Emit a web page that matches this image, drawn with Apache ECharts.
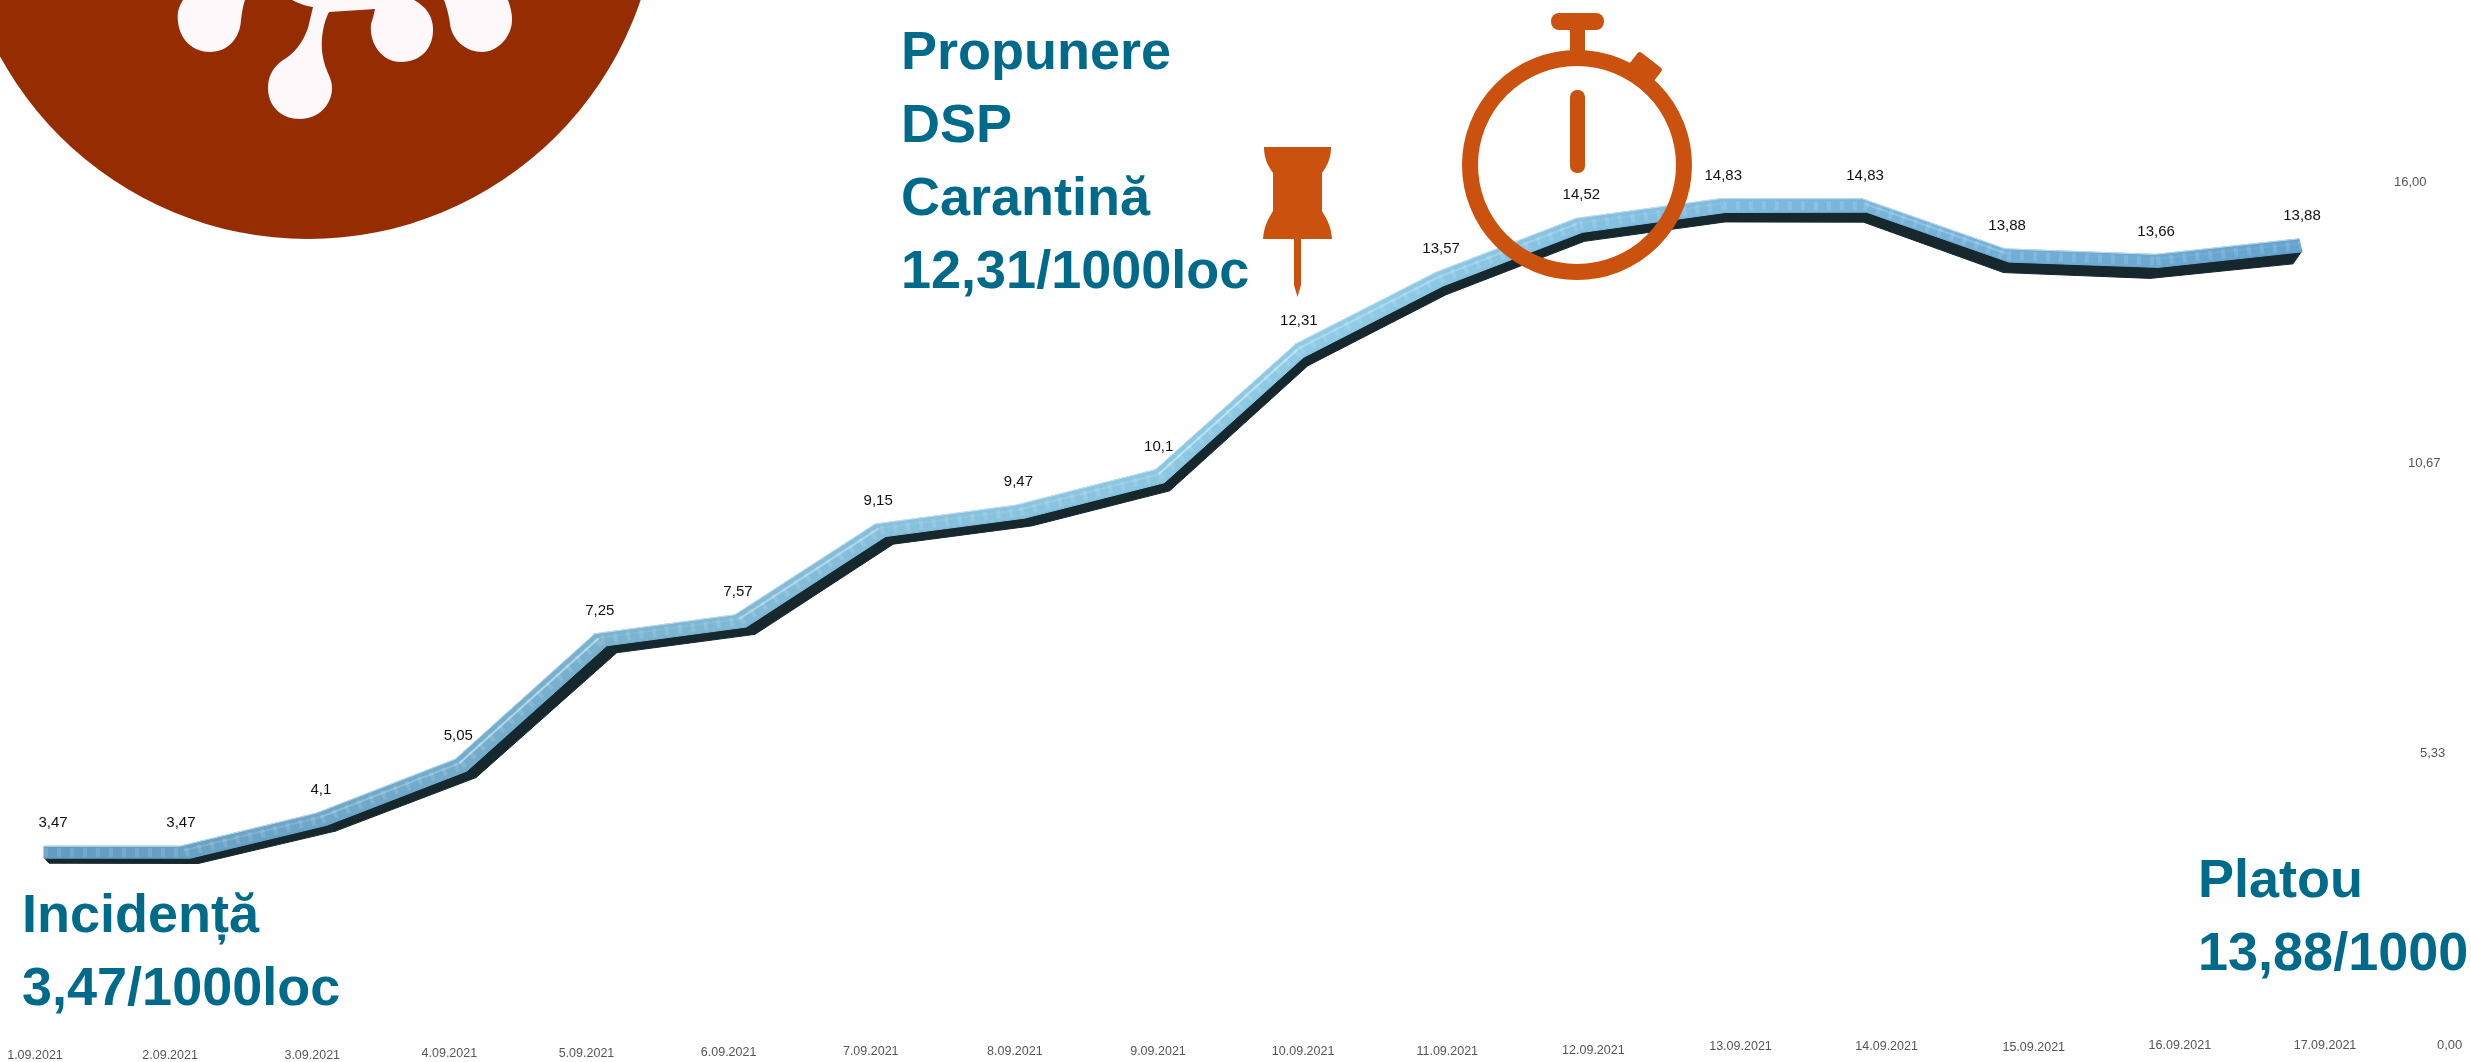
<!DOCTYPE html>
<html><head><meta charset="utf-8">
<style>html,body{margin:0;padding:0;background:#fff}#c{width:2471px;height:1062px}</style>
<script src="https://cdn.jsdelivr.net/npm/echarts@6/dist/echarts.min.js"></script>
</head><body><div id="c"></div>
<script>
// ---- data ----
var dates = ['1.09.2021','2.09.2021','3.09.2021','4.09.2021','5.09.2021','6.09.2021','7.09.2021','8.09.2021','9.09.2021','10.09.2021','11.09.2021','12.09.2021','13.09.2021','14.09.2021','15.09.2021','16.09.2021','17.09.2021'];
var incidenta = [3.47,3.47,4.1,5.05,7.25,7.57,9.15,9.47,10.1,12.31,13.57,14.52,14.83,14.83,13.88,13.66,13.88];
var yTicks = [0,5.33,10.67,16];

// ---- perspective look of the original 3D line (styling only) ----
var TEAL='#006a8a', ORANGE='#cb510e', RUST='#962c02', BLOB='#fff8fb';
function lerp(st,x){ if(x<=st[0][0])return st[0].slice(1);
  for(var i=1;i<st.length;i++){ if(x<=st[i][0]){var t=(x-st[i-1][0])/(st[i][0]-st[i-1][0]);
    return st[i].slice(1).map(function(v,k){return st[i-1][k+1]+(v-st[i-1][k+1])*t;});}}
  return st[st.length-1].slice(1);}
var warpStops=[[44,0,-3],[185,-5,-3],[326,-10,0],[608,-13,0],[1000,-15,-2],[1595,-18,-1],[1736,-15,-3],[1900,-14,-3],[2017,-12,-7],[2158,-3,-14],[2299,0,-17]];
// x: blue dx, blue dy, dark dx, dark dy
var depthStops=[[44,0,12,5,17],[120,10,12,18,17],[600,12,12,22,19],[1577,6,14,8,23],[2155,3,13,-5,24],[2299,3,13,-6,25]];
var xLabelNudge=[0,-8,-9,-15,-21,-22,-23,-22,-22,-20,-19,-16,-12,-9,-5,-2,0];
var xLabelDrop=[10,10,10,8,8,7,6,6,6,6,6,5,1,1,2,0,0];
var yLabelStyle={0:[0,0,43],5.33:[0,8,26],10.67:[0,12,14],16:[0,0,0]};
var dataLabelLeft=[6,-2,2,0,2,0,0,0,0,0,2,2,0,0,-1,-2,0];

function warp(api,i){ var p=api.coord([i,incidenta[i]]); var w=lerp(warpStops,p[0]); return [p[0]+w[0],p[1]+w[1]]; }
function off(p,dx,dy){ return [p[0]+dx,p[1]+dy]; }
var blueFill={type:'linear',x:0,y:0,x2:2471,y2:0,global:true,colorStops:[
 {offset:0,color:'#5f9ac0'},{offset:.12,color:'#6ca5c8'},{offset:.24,color:'#78b2cf'},{offset:.36,color:'#86c0dc'},{offset:.55,color:'#8fcbe6'},{offset:.72,color:'#7cb8dc'},{offset:1,color:'#5d9ccb'}]};
function bandItem(kind){ return function(params,api){
  var i=api.value(0);
  if(i>=incidenta.length-1) return {type:'group',children:[]};
  var a=warp(api,i), b=warp(api,i+1), da=lerp(depthStops,a[0]), db=lerp(depthStops,b[0]);
  if(kind==='dark'){
    return {type:'polygon',shape:{points:[off(a,da[0],da[1]-1),off(b,db[0],db[1]-1),off(b,db[2],db[3]),off(a,da[2],da[3])]},
      style:{fill:'#16282d',stroke:'#16282d',lineWidth:1}};
  }
  var steep=Math.abs(b[1]-a[1])/(b[0]-a[0]);
  return {type:'group',children:[
    {type:'polygon',shape:{points:[a,b,off(b,db[0],db[1]),off(a,da[0],da[1])]},style:{fill:blueFill,stroke:blueFill,lineWidth:1}},
    {type:'line',shape:{x1:a[0]+da[0]*.5,y1:a[1]+da[1]*.5,x2:b[0]+db[0]*.5,y2:b[1]+db[1]*.5},style:{stroke:'rgba(255,255,255,.13)',lineWidth:9,lineDash:[4,9]}},
    {type:'line',shape:{x1:a[0]+da[0]*.35,y1:a[1]+da[1]*.35,x2:b[0]+db[0]*.35,y2:b[1]+db[1]*.35},style:{stroke:'rgba(225,245,250,'+Math.min(.55,steep*.7)+')',lineWidth:2}},
    {type:'line',shape:{x1:a[0],y1:a[1],x2:b[0],y2:b[1]},style:{stroke:'rgba(205,230,240,.8)',lineWidth:1}}
  ]};
};}
function labelItem(params,api){
  var i=api.value(0), p=warp(api,i);
  return {type:'text',x:p[0]+3+dataLabelLeft[i],y:p[1]-23,style:{text:String(incidenta[i]).replace('.',','),fill:'#111',font:'15px "Liberation Sans"',textAlign:'center',textVerticalAlign:'middle'}};
}
var seriesData=incidenta.map(function(v,i){return [i,v];});

var xRich={}; dates.forEach(function(d,i){ var n=xLabelNudge[i];
  xRich['t'+i]={fontSize:12.5,fontFamily:'Liberation Sans',color:'#555',padding:[xLabelDrop[i]*2,n<0?-n*2:0,0,0]}; });
var yRich={}; yTicks.forEach(function(v,i){ var s=yLabelStyle[v];
  yRich['y'+i]={fontSize:13,fontFamily:'Liberation Sans',color:'#555',padding:[0,0,s[1],s[2]]}; });

// decorative outlines: straight and cubic pieces flattened to polygon points
function outline(cmds){ var pts=[],cur=null;
  cmds.forEach(function(c){
    if(c.length===2){cur=c;pts.push(c);}
    else{ for(var k=1;k<=16;k++){var t=k/16,u=1-t;
      pts.push([u*u*u*cur[0]+3*u*u*t*c[0]+3*u*t*t*c[2]+t*t*t*c[4], u*u*u*cur[1]+3*u*u*t*c[1]+3*u*t*t*c[3]+t*t*t*c[5]]);}
      cur=[c[4],c[5]]; }
  }); return pts; }
function bigText(t,x,y){ return {type:'text',x:x,y:y,z:20,style:{text:t,fill:TEAL,font:'bold 54px "Liberation Sans"',textVerticalAlign:'middle'}}; }
function blob(cmds,fill){ return {type:'polygon',z:2,shape:{points:outline(cmds)},style:{fill:fill||BLOB}}; }
var graphic=[
 {type:'circle',z:1,shape:{cx:308,cy:-112,r:351},style:{fill:RUST}},
 blob([[183,0],[178,8,177,14,178,22],[180,40,193,52,210,52],[228,52,240,38,241,20],[242,12,243,6,245,0]]),
 blob([[292,0],[298,3,305,6,313,7],[308,28],[303,42,295,53,283,60],[272,68,268,77,268,88],[268,106,281,119,300,119],[318,119,332,105,332,88],[332,82,330,78,328,73],[323,62,321,50,322,38],[323,28,325,20,329,12],[375,9],[374,14,373,18,371,24],[369,44,382,62,401,62],[421,62,433,48,433,30],[433,18,428,8,414,0]]),
 blob([[444,0],[447,8,449,16,450,24],[452,40,466,52,482,52],[498,52,512,36,512,20],[512,12,510,6,508,0]]),
 bigText('Propunere',901,54), bigText('DSP',901,127), bigText('Carantină',901,200), bigText('12,31/1000loc',901,273),
 bigText('Incidență',22,917), bigText('3,47/1000loc',22,990),
 bigText('Platou',2198,882), bigText('13,88/1000',2198,955),
 {type:'polygon',z:20,shape:{points:outline([[1264,147],[1331,147],[1331,160,1326,167,1322,173],[1322,211],[1326,218,1331,225,1332,239],[1301,239],[1301,285],[1297.5,297],[1294,285],[1294,239],[1263,239],[1264,225,1269,218,1273,211],[1273,173],[1269,167,1264,160,1264,147]])},style:{fill:ORANGE}},
 {type:'circle',z:20,shape:{cx:1577,cy:165,r:107},style:{fill:'none',stroke:ORANGE,lineWidth:16}},
 {type:'rect',z:20,shape:{x:1570,y:26,width:15,height:30},style:{fill:ORANGE}},
 {type:'rect',z:20,shape:{x:1551,y:13,width:53,height:17,r:8},style:{fill:ORANGE}},
 {type:'rect',z:20,shape:{x:1570,y:90,width:15,height:83,r:7},style:{fill:ORANGE}},
 {type:'rect',z:20,x:1645,y:68,originX:0,originY:0,rotation:-38*Math.PI/180,shape:{x:-15,y:-10,width:30,height:20,r:3},style:{fill:ORANGE}}
];

var chart=echarts.init(document.getElementById('c'),null,{renderer:'canvas'});
chart.setOption({
 animation:false,backgroundColor:'#fff',
 grid:[
  {left:44,width:2255,top:135,height:912},
  {left:35,width:2290,top:182,height:865}
 ],
 xAxis:[
  {type:'category',gridIndex:0,data:dates,boundaryGap:false,show:false},
  {type:'category',gridIndex:1,data:dates,boundaryGap:false,axisLine:{show:false},axisTick:{show:false},splitLine:{show:false},
   axisLabel:{interval:0,margin:0,verticalAlign:'middle',hideOverlap:false,rich:xRich,formatter:function(v,i){return '{t'+i+'|'+v+'}';}}}
 ],
 yAxis:[
  {type:'value',gridIndex:0,min:0,max:16,show:false},
  {type:'value',gridIndex:1,min:0,max:16,position:'right',axisLine:{show:false},axisTick:{show:false,customValues:yTicks},splitLine:{show:false},
   axisLabel:{customValues:yTicks,margin:69,align:'left',showMinLabel:true,showMaxLabel:true,rich:yRich,
    formatter:function(v){var i=yTicks.indexOf(Number(v));return '{y'+i+'|'+Number(v).toFixed(2).replace('.',',')+'}';}}}
 ],
 graphic:graphic,
 series:[
  {name:'Incidență (umbră)',type:'custom',xAxisIndex:0,yAxisIndex:0,data:seriesData,renderItem:bandItem('dark'),silent:true,z:3},
  {name:'Incidență',type:'custom',xAxisIndex:0,yAxisIndex:0,data:seriesData,renderItem:bandItem('top'),silent:true,z:4},
  {name:'Etichete',type:'custom',xAxisIndex:0,yAxisIndex:0,data:seriesData,renderItem:labelItem,silent:true,z:5}
 ]
});
</script></body></html>
